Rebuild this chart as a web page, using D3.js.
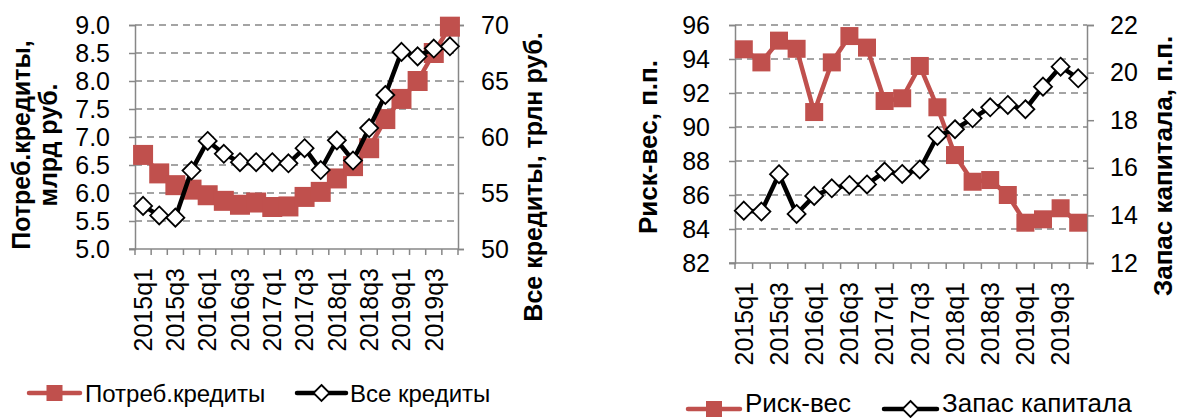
<!DOCTYPE html>
<html><head><meta charset="utf-8">
<script src="https://cdn.jsdelivr.net/npm/d3@7"></script>
<style>
html,body{margin:0;padding:0;background:#fff;}
svg{display:block;}
text{font-family:Arial,"Liberation Sans",sans-serif;fill:#000;}
</style></head>
<body>
<svg id="c" width="1177" height="418"></svg>
<script>
const quarters = ["2015q1","2015q2","2015q3","2015q4","2016q1","2016q2","2016q3","2016q4",
  "2017q1","2017q2","2017q3","2017q4","2018q1","2018q2","2018q3","2018q4",
  "2019q1","2019q2","2019q3","2019q4"];
const shownLabels = ["2015q1","2015q3","2016q1","2016q3","2017q1","2017q3","2018q1","2018q3","2019q1","2019q3"];
const consumerLoans = [6.68,6.35,6.14,6.06,5.96,5.86,5.79,5.83,5.75,5.76,5.93,6.02,6.26,6.48,6.8,7.32,7.68,8.0,8.5,8.97];
const allLoans = [53.85,53.0,52.8,57.0,59.65,58.5,57.75,57.75,57.75,57.65,59.0,57.05,59.7,57.9,60.8,63.75,67.6,67.2,67.9,68.1];
const riskWeight = [94.57,93.8,95.08,94.6,90.88,93.8,95.35,94.67,91.53,91.69,93.59,91.16,88.35,86.78,86.88,86.0,84.37,84.57,85.22,84.37];
const capitalBuffer = [14.2,14.16,15.73,14.06,14.82,15.14,15.28,15.3,15.84,15.74,15.93,17.34,17.62,18.08,18.54,18.64,18.46,19.41,20.25,19.76];

const leftTicksA = [5.0,5.5,6.0,6.5,7.0,7.5,8.0,8.5,9.0];
const rightTicksA = [50,55,60,65,70];
const leftTicksB = [82,84,86,88,90,92,94,96];
const rightTicksB = [12,14,16,18,20,22];

const RED = "#C0504D", GRID = "#878787";
const svg = d3.select("#c");

function chart(cfg){
  const g = svg.append("g");
  const x = d3.scaleBand().domain(quarters).range([cfg.x0, cfg.x1]).padding(0);
  const yL = d3.scaleLinear().domain(cfg.lDom).range([cfg.yb, cfg.yt]);
  const yR = d3.scaleLinear().domain(cfg.rDom).range([cfg.yb, cfg.yt]);

  g.append("g").selectAll("line").data(cfg.lTicks.slice(1)).join("line")
    .attr("x1", cfg.x0).attr("x2", cfg.x1)
    .attr("y1", d=>yL(d)).attr("y2", d=>yL(d))
    .attr("stroke", GRID).attr("stroke-width", 1.5).attr("stroke-dasharray", "7,5");

  const la = g.append("g").attr("transform", `translate(${cfg.x0},0)`)
    .call(d3.axisLeft(yL).tickValues(cfg.lTicks).tickSize(6).tickPadding(cfg.lPad).tickFormat(cfg.lFmt));
  const ra = g.append("g").attr("transform", `translate(${cfg.x1},0)`)
    .call(d3.axisRight(yR).tickValues(cfg.rTicks).tickSize(cfg.rTick).tickPadding(cfg.rPad).tickFormat(d3.format("d")));
  const ba = g.append("g").attr("transform", `translate(0,${cfg.yb})`)
    .call(d3.axisBottom(x).tickValues(shownLabels).tickSize(0).tickPadding(0));
  ba.selectAll("text").attr("transform", "rotate(-90)").attr("text-anchor", "end")
    .attr("x", -cfg.xlPad).attr("y", 0).attr("dy", "0.35em");
  ba.select(".domain").remove();
  const bt = d3.range(quarters.length+1);
  g.append("g").selectAll("line").data(bt).join("line")
    .attr("x1", i=>cfg.x0 + i*x.step()).attr("x2", i=>cfg.x0 + i*x.step())
    .attr("y1", cfg.yb).attr("y2", cfg.yb+6)
    .attr("stroke", GRID).attr("stroke-width", 1.5);
  g.append("line").attr("x1", cfg.x0-6).attr("x2", cfg.x1)
    .attr("y1", cfg.yb).attr("y2", cfg.yb).attr("stroke", GRID).attr("stroke-width", 1.5);

  [la, ra].forEach(a=>{
    a.selectAll(".domain").attr("stroke", GRID).attr("stroke-width", 1.5);
    a.selectAll(".tick line").attr("stroke", GRID).attr("stroke-width", 1.5);
  });
  g.selectAll("text").attr("font-size", cfg.fsTick).attr("font-family", "Arial, 'Liberation Sans', sans-serif").attr("fill", "#000");

  const cx = d => x(d) + x.bandwidth()/2;

  const lineL = d3.line().x((d,i)=>cx(quarters[i])).y(d=>yL(d));
  g.append("path").datum(cfg.lData).attr("d", lineL)
    .attr("fill", "none").attr("stroke", RED).attr("stroke-width", 4.5).attr("stroke-linejoin", "round");
  g.append("g").selectAll("rect").data(cfg.lData).join("rect")
    .attr("x", (d,i)=>cx(quarters[i]) - cfg.sq/2).attr("y", d=>yL(d) - cfg.sq/2)
    .attr("width", cfg.sq).attr("height", cfg.sq).attr("fill", RED);

  const lineR = d3.line().x((d,i)=>cx(quarters[i])).y(d=>yR(d));
  g.append("path").datum(cfg.rData).attr("d", lineR)
    .attr("fill", "none").attr("stroke", "#000").attr("stroke-width", 4.5).attr("stroke-linejoin", "round");
  const dm = cfg.dm/2;
  g.append("g").selectAll("path").data(cfg.rData).join("path")
    .attr("d", (d,i)=>{const px=cx(quarters[i]), py=yR(d); return `M${px},${py-dm}L${px+dm},${py}L${px},${py+dm}L${px-dm},${py}Z`;})
    .attr("fill", "#fff").attr("stroke", "#000").attr("stroke-width", 1.8);

  cfg.lTitle.forEach(t=>{
    g.append("text").attr("transform", `translate(${t.x},${t.y}) rotate(-90)`)
      .attr("text-anchor", "middle").attr("dy", "0.35em")
      .attr("font-size", cfg.fsTitle).attr("font-weight", "bold").text(t.s);
  });
  g.append("text").attr("transform", `translate(${cfg.rTitle.x},${cfg.rTitle.y}) rotate(-90)`)
    .attr("text-anchor", "middle").attr("dy", "0.35em")
    .attr("font-size", cfg.fsTitle).attr("font-weight", "bold").text(cfg.rTitle.s);

  const L = cfg.legend;
  const lg = g.append("g");
  lg.append("line").attr("x1", L.a0).attr("x2", L.a1).attr("y1", L.y).attr("y2", L.y)
    .attr("stroke", RED).attr("stroke-width", 4.5).attr("stroke-linecap", "round");
  lg.append("rect").attr("x", (L.a0+L.a1)/2 - 8).attr("y", L.y-8).attr("width", 16).attr("height", 16).attr("fill", RED);
  lg.append("text").attr("x", L.ta).attr("y", L.base).attr("font-size", cfg.fsLeg).text(L.sa);
  lg.append("line").attr("x1", L.b0).attr("x2", L.b1).attr("y1", L.y).attr("y2", L.y)
    .attr("stroke", "#000").attr("stroke-width", 4.5).attr("stroke-linecap", "round");
  const bx = (L.b0+L.b1)/2;
  lg.append("path").attr("d", `M${bx},${L.y-8}L${bx+8},${L.y}L${bx},${L.y+8}L${bx-8},${L.y}Z`)
    .attr("fill", "#fff").attr("stroke", "#000").attr("stroke-width", 1.8);
  lg.append("text").attr("x", L.tb).attr("y", L.base).attr("font-size", cfg.fsLeg).text(L.sb);
}

chart({
  x0:135, x1:458, yt:25, yb:249,
  lDom:[5,9], rDom:[50,70], lTicks:leftTicksA, rTicks:rightTicksA,
  lFmt:d3.format(".1f"), lPad:19, rTick:6, rPad:17, xlPad:19,
  fsTick:25, fsTitle:25, fsLeg:24,
  lData:consumerLoans, rData:allLoans, sq:20, dm:18,
  lTitle:[{x:21,y:145,s:"Потреб.кредиты,"},{x:48,y:145,s:"млрд руб."}],
  rTitle:{x:533,y:177,s:"Все кредиты, трлн руб."},
  legend:{y:393, base:402, a0:29, a1:80, ta:85, sa:"Потреб.кредиты", b0:297, b1:346, tb:350, sb:"Все кредиты"}
});
chart({
  x0:735, x1:1087, yt:25, yb:263,
  lDom:[82,96], rDom:[12,22], lTicks:leftTicksB, rTicks:rightTicksB,
  lFmt:d3.format("d"), lPad:19, rTick:7, rPad:16, xlPad:19,
  fsTick:25, fsTitle:26, fsLeg:26,
  lData:riskWeight, rData:capitalBuffer, sq:18, dm:18,
  lTitle:[{x:648,y:147,s:"Риск-вес, п.п."}],
  rTitle:{x:1163,y:166,s:"Запас капитала, п.п."},
  legend:{y:409, base:412, a0:688, a1:740, ta:745, sa:"Риск-вес", b0:884, b1:937, tb:942, sb:"Запас капитала"}
});
</script>
</body></html>
